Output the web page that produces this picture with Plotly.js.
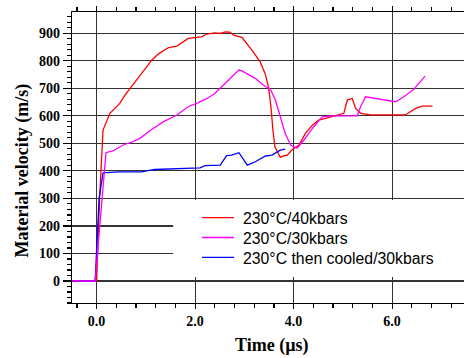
<!DOCTYPE html>
<html>
<head>
<meta charset="utf-8">
<script src="https://cdn.plot.ly/plotly-3.0.1.min.js"></script>
<style>html,body{margin:0;padding:0;background:#fff;}#chart{width:464px;height:358px;}</style>
</head>
<body>
<div id="chart"></div>
<script>
// Series: 230°C/40kbars (red)
const t40 = [-0.5, 0.0, 0.06, 0.13, 0.27, 0.47, 0.575, 0.68, 0.88, 1.12, 1.25, 1.46, 1.63, 1.86, 2.03, 2.13, 2.24, 2.40, 2.51, 2.61, 2.71, 2.78, 2.95, 3.05, 3.18, 3.32, 3.42, 3.49, 3.54, 3.58, 3.62, 3.73, 3.79, 3.87, 3.96, 4.11, 4.24, 4.38, 4.51, 4.72, 4.92, 5.02, 5.09, 5.19, 5.26, 5.32, 5.36, 5.56, 6.27, 6.48, 6.61, 6.82];
const v40 = [0, 0, 300, 548, 609, 645, 675, 699, 748, 802, 824, 848, 853, 881, 885, 887, 897, 901, 899, 905, 904, 893, 885, 863, 832, 796, 754, 705, 633, 548, 487, 449, 454, 457, 475, 494, 536, 566, 584, 594, 603, 609, 657, 663, 627, 614, 609, 603, 603, 627, 635, 635];
// Series: 230°C/30kbars (magenta)
const t30 = [-0.5, -0.03, 0.19, 0.34, 0.54, 0.74, 0.88, 1.08, 1.35, 1.63, 1.86, 2.03, 2.24, 2.40, 2.57, 2.71, 2.89, 2.95, 3.06, 3.22, 3.39, 3.53, 3.63, 3.73, 3.83, 3.94, 4.07, 4.21, 4.38, 4.58, 4.78, 5.29, 5.36, 5.46, 6.07, 6.24, 6.44, 6.67];
const v30 = [0, 0, 466, 473, 494, 506, 518, 546, 578, 603, 633, 645, 663, 681, 711, 736, 766, 763, 751, 736, 711, 696, 657, 596, 536, 494, 482, 512, 554, 596, 600, 600, 633, 669, 651, 669, 696, 744];
// Series: 230°C then cooled/30kbars (blue)
const tCool = [-0.5, -0.03, 0.05, 0.13, 0.44, 0.91, 1.18, 1.46, 1.79, 2.10, 2.20, 2.51, 2.64, 2.74, 2.89, 2.95, 3.06, 3.22, 3.43, 3.56, 3.73, 3.83];
const vCool = [0, 0, 300, 393, 396, 396, 405, 407, 410, 411, 419, 421, 455, 457, 466, 451, 421, 433, 454, 457, 475, 479];

const names = ['230°C/40kbars', '230°C/30kbars', '230°C then cooled/30kbars'];
const colors = ['#ff0000', '#ff00ff', '#0000ff'];

const data = [
  {x: t40, y: v40, name: names[0], mode: 'lines', line: {color: colors[0], width: 1.3}},
  {x: tCool, y: vCool, name: names[2], mode: 'lines', line: {color: colors[2], width: 1.3}},
  {x: t30, y: v30, name: names[1], mode: 'lines', line: {color: colors[1], width: 1.3}}
];

// legend drawn as annotations + sample lines (paper coordinates)
const legendRowsY = [0.2931, 0.2251, 0.1570];
const legendShapes = names.map((n, i) => ({
  type: 'line', xref: 'paper', yref: 'paper', x0: 0.3316, x1: 0.4133,
  y0: legendRowsY[i], y1: legendRowsY[i], line: {color: colors[i], width: 1.3}, layer: 'above'
}));
const legendTexts = names.map((n, i) => ({
  text: n, xref: 'paper', yref: 'paper', x: 0.431, y: legendRowsY[i] - 0.004,
  xanchor: 'left', yanchor: 'middle', showarrow: false,
  font: {family: 'Liberation Sans, Arial, sans-serif', size: 15.8, color: '#000'}
}));

const tickFont = {family: 'Liberation Serif, Times New Roman, serif', size: 14, color: '#000', weight: 'bold'};
const layout = {
  width: 464, height: 358,
  margin: {l: 72, r: 0, t: 12, b: 55},
  paper_bgcolor: '#fff', plot_bgcolor: '#fff',
  showlegend: false,
  xaxis: {
    range: [-0.5, 7.46], dtick: 2, tick0: 0, tickformat: '.1f',
    ticks: 'outside', ticklen: 5, tickwidth: 1.2, tickcolor: '#000',
    showline: true, linecolor: '#000', linewidth: 1.3, mirror: 'ticks',
    showgrid: true, gridcolor: '#333', gridwidth: 1.2, zeroline: false,
    tickfont: tickFont,
    minor: {dtick: 0.4, tick0: 0, ticks: 'outside', ticklen: 4, tickwidth: 1.2, tickcolor: '#000', showgrid: false}
  },
  yaxis: {
    range: [-80, 977], dtick: 100, tick0: 0,
    ticks: 'outside', ticklen: 8, tickwidth: 1.2, tickcolor: '#000',
    showline: true, linecolor: '#000', linewidth: 1.3,
    showgrid: true, gridcolor: '#333', gridwidth: 1.2, zeroline: false,
    tickfont: tickFont,
    minor: {dtick: 20, tick0: 0, ticks: 'outside', ticklen: 4, tickwidth: 1.2, tickcolor: '#000', showgrid: false}
  },
  shapes: [
    {type: 'rect', xref: 'paper', yref: 'paper', x0: 0.258, x1: 1, y0: 0.0893, y1: 0.354,
     fillcolor: '#fff', line: {width: 0}, layer: 'above'}
  ].concat(legendShapes),
  annotations: [
    {text: 'Material velocity (m/s)', xref: 'paper', yref: 'paper', x: -0.125, y: 0.455,
     xanchor: 'center', yanchor: 'middle', textangle: -90, showarrow: false,
     font: {family: 'Liberation Serif, Times New Roman, serif', size: 18, color: '#000', weight: 'bold'}},
    {text: 'Time (µs)', xref: 'paper', yref: 'paper', x: 0.509, y: -0.146,
     xanchor: 'center', yanchor: 'middle', showarrow: false,
     font: {family: 'Liberation Serif, Times New Roman, serif', size: 18, color: '#000', weight: 'bold'}}
  ].concat(legendTexts)
};

Plotly.newPlot('chart', data, layout, {displayModeBar: false, staticPlot: true});
</script>
</body>
</html>
